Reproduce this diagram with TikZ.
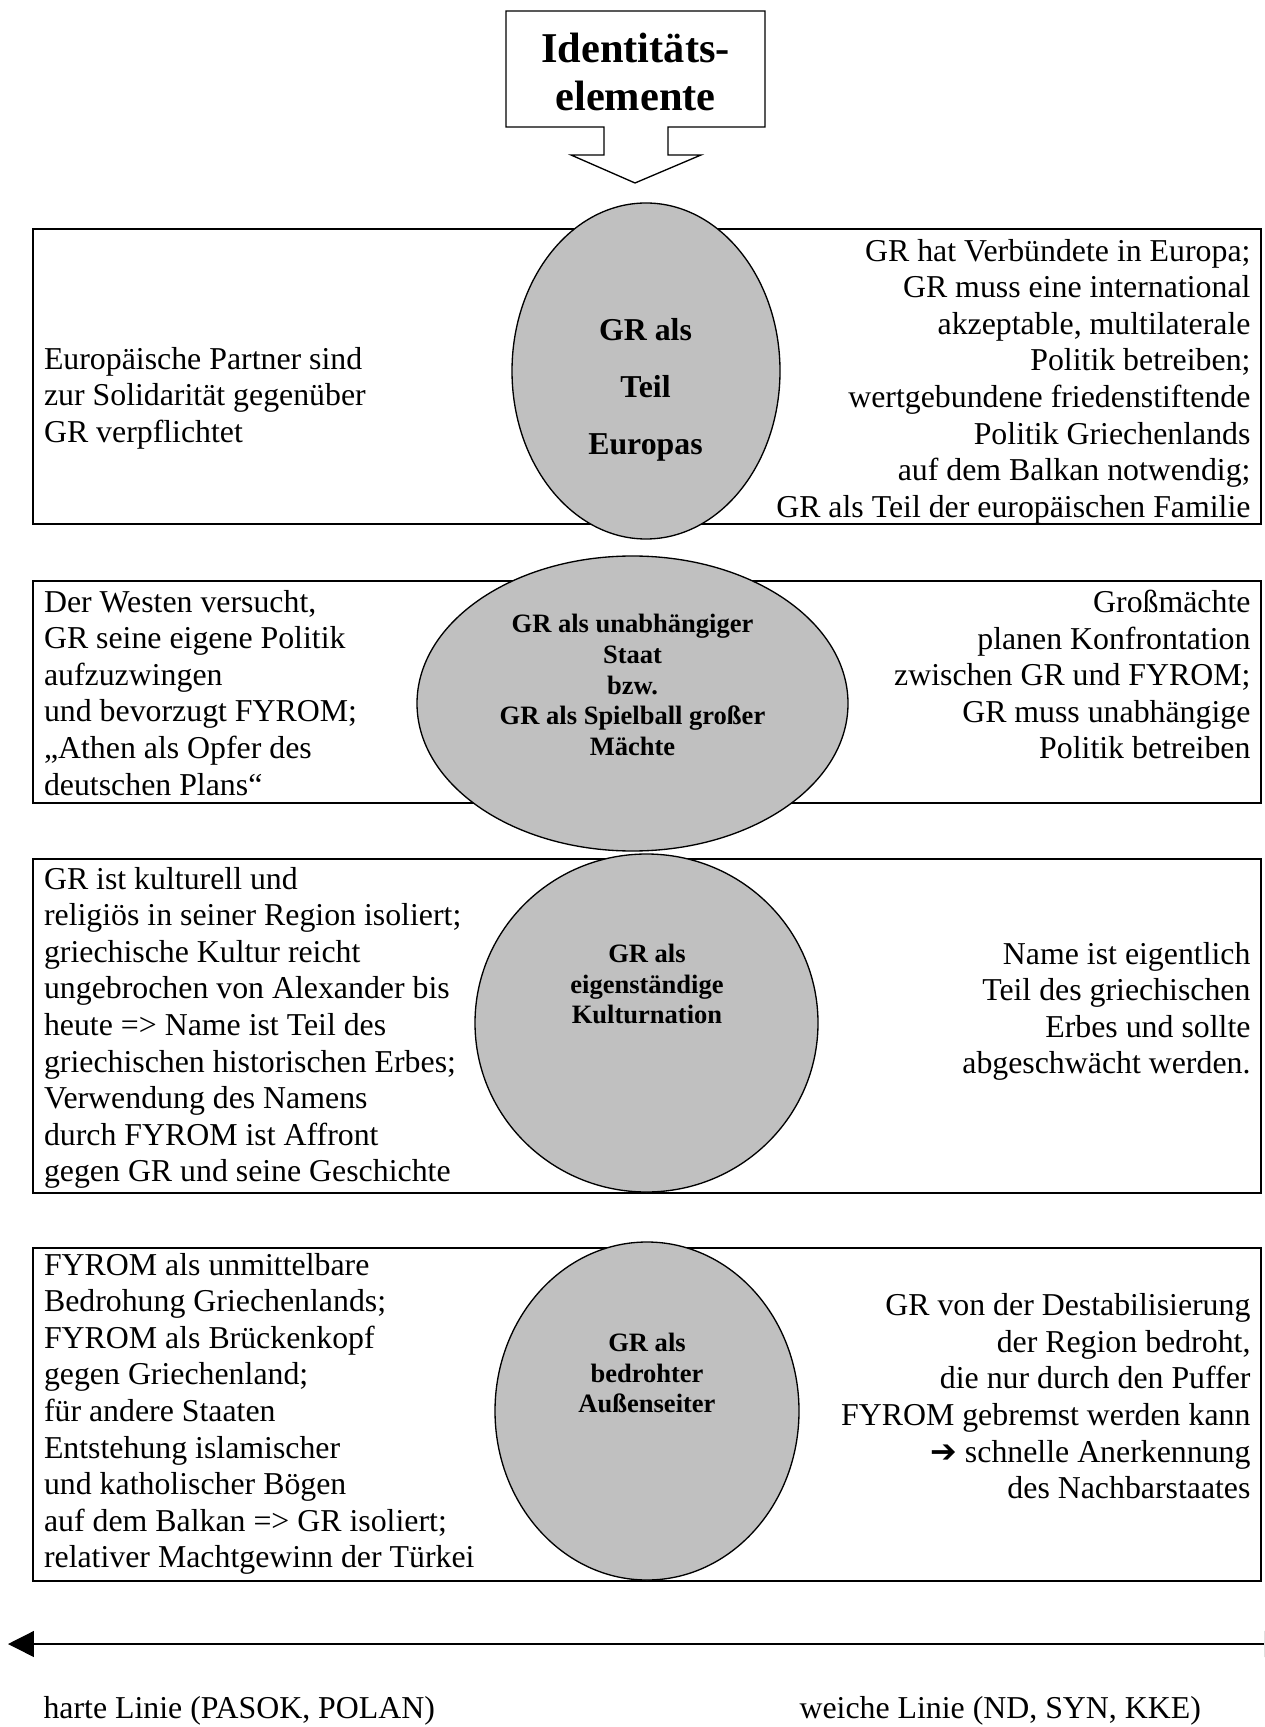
\documentclass[tikz,border=0pt]{standalone}
\usepackage{fontspec}
\setmainfont{Liberation Serif}
\newfontfamily\dingfont{DejaVu Sans}
\usetikzlibrary{arrows.meta, shapes.geometric}

\definecolor{blobgray}{gray}{0.753}

\tikzset{
  row box/.style={draw, line width=0.75pt, minimum width=463pt, inner sep=0pt},
  blob/.style={ellipse, draw, fill=blobgray, line width=0.5pt, inner sep=0pt},
  blob text/.style={align=center, inner sep=0pt, font=\bfseries\fontsize{10}{11.6}\selectfont},
  left note/.style={anchor=north west, align=left, inner sep=0pt},
  right note/.style={anchor=north east, align=right, inner sep=0pt},
  scale line/.style={line width=0.5pt, {Triangle[length=9.8pt, width=9.8pt]}-{Triangle[length=9.8pt, width=9.8pt]}}
}

\begin{document}
\begin{tikzpicture}[x=0.377pt, y=-0.377pt, font=\fontsize{12}{13.8}\selectfont]

    \useasboundingbox (0,0) rectangle (1264,1727);
    \clip (0,0) rectangle (1264,1727);

    \draw [line width=0.5pt] (506,11) -- (765,11) -- (765,127) -- (668,127) -- (668,155)
      -- (701,155) -- (635,183) -- (571,155) -- (604,155) -- (604,127) -- (506,127) -- cycle;
    \node [align=center, inner sep=0pt, font=\bfseries\fontsize{16}{18.2}\selectfont]
      (title) at (635.5,72) {Identitäts-\\elemente};

    \foreach \cy/\h [count=\n] in {376.5/295, 692/222, 1026/334, 1414.5/333}
      \node [row box, minimum height=\h*0.377pt] (row-\n) at (647,\cy) {};

    \foreach \cx/\cy/\w/\h [count=\n] in {646/371/268/336, 632.5/703.5/431/295, 646.5/1023/343/338, 647/1411/304/338}
      \node [blob, minimum width=\w*0.377pt, minimum height=\h*0.377pt] (blob-\n) at (\cx,\cy) {};

    \node [blob text, font=\bfseries\fontsize{12}{21.5}\selectfont] (label-1) at (645.5,390)
      {GR als\\Teil\\Europas};
    \node [blob text] (label-2) at (632.5,685)
      {GR als unabhängiger\\Staat\\bzw.\\GR als Spielball großer\\Mächte};
    \node [blob text] (label-3) at (647,984)
      {GR als\\eigenständige\\Kulturnation};
    \node [blob text] (label-4) at (647,1373)
      {GR als\\bedrohter\\Außenseiter};

    \node [left note] (left-1) at (43.5,346.5)
      {Europäische Partner sind\\zur Solidarität gegenüber\\GR verpflichtet};
    \node [right note] (right-1) at (1251,238.5)
      {GR hat Verbündete in Europa;\\GR muss eine international\\akzeptable, multilaterale\\Politik betreiben;\\wertgebundene friedenstiftende\\Politik Griechenlands\\auf dem Balkan notwendig;\\GR als Teil der europäischen Familie};

    \node [left note] (left-2) at (43.5,589.5)
      {Der Westen versucht,\\GR seine eigene Politik\\aufzuzwingen\\und bevorzugt FYROM;\\„Athen als Opfer des\\deutschen Plans“};
    \node [right note] (right-2) at (1251,589.5)
      {Großmächte\\planen Konfrontation\\zwischen GR und FYROM;\\GR muss unabhängige\\Politik betreiben};

    \node [left note] (left-3) at (43.5,866.5)
      {GR ist kulturell und\\religiös in seiner Region isoliert;\\griechische Kultur reicht\\ungebrochen von Alexander bis\\heute => Name ist Teil des\\griechischen historischen Erbes;\\Verwendung des Namens\\durch FYROM ist Affront\\gegen GR und seine Geschichte};
    \node [right note] (right-3) at (1251,941.5)
      {Name ist eigentlich\\Teil des griechischen\\Erbes und sollte\\abgeschwächt werden.};

    \node [left note] (left-4) at (43.5,1252.5)
      {FYROM als unmittelbare\\Bedrohung Griechenlands;\\FYROM als Brückenkopf\\gegen Griechenland;\\für andere Staaten\\Entstehung islamischer\\und katholischer Bögen\\auf dem Balkan => GR isoliert;\\relativer Machtgewinn der Türkei};
    \node [right note] (right-4) at (1251,1293)
      {GR von der Destabilisierung\\der Region bedroht,\\die nur durch den Puffer\\FYROM gebremst werden kann\\{\dingfont ➔} schnelle Anerkennung\\des Nachbarstaates};

    \coordinate (hard-end) at (8,1644);
    \coordinate (soft-end) at (1290,1644);
    \draw [scale line] (hard-end) -- (soft-end);

    \node [anchor=base west, inner sep=0pt] (hard) at (43,1718) {harte Linie (PASOK, POLAN)};
    \node [anchor=base west, inner sep=0pt] (soft) at (799,1718) {weiche Linie (ND, SYN, KKE)};

\end{tikzpicture}
\end{document}
